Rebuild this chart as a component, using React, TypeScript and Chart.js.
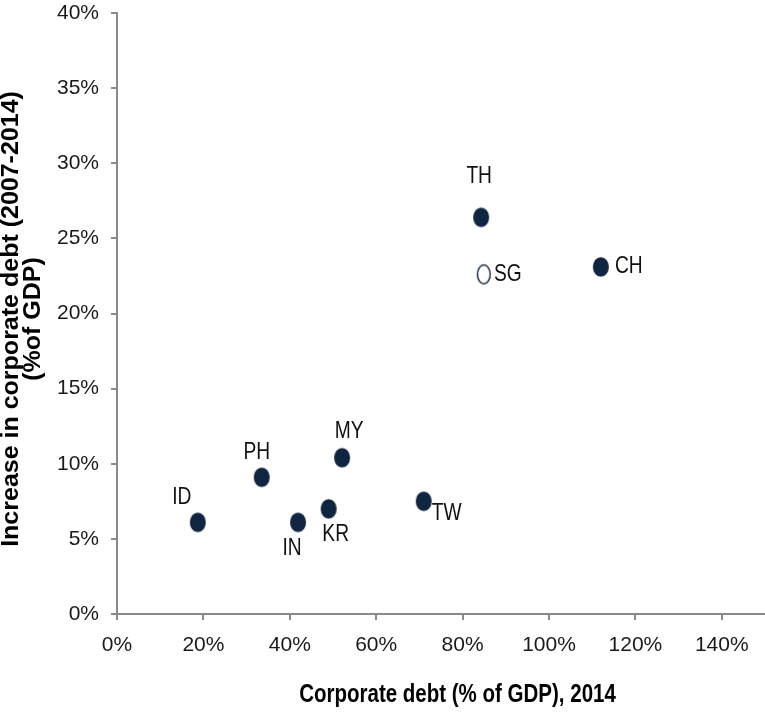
import React, { useEffect, useRef } from 'react';
import { Chart, registerables } from 'chart.js';

Chart.register(...registerables);

// ---- data ----
const countries = ['ID', 'PH', 'IN', 'KR', 'MY', 'TW', 'TH', 'SG', 'CH'];
const corporateDebt2014 = [18.7, 33.5, 41.9, 49.0, 52.1, 71.0, 84.3, 84.9, 112.0];
const debtIncrease = [6.1, 9.1, 6.1, 7.0, 10.4, 7.5, 26.4, 22.6, 23.1];
const hollowCountries = ['SG'];

const xTitle = 'Corporate debt (% of GDP), 2014';
const yTitleLines = ['Increase in corporate debt (2007-2014)', '(%of GDP)'];

// ---- label placement (style) ----
const labelOffsets: [number, number][] = [
  [-16, -25], [-5, -25], [-6, 26], [7, 26], [7, -26], [23, 12], [-2, -41], [24, 0], [28, -1],
];

const NAVY = '#10253f';
const SANS = "'Liberation Sans', Arial, sans-serif";

function makeEllipse(filled: boolean): HTMLCanvasElement {
  const c = document.createElement('canvas');
  c.width = 20;
  c.height = 24;
  const g = c.getContext('2d')!;
  g.beginPath();
  if (filled) {
    g.ellipse(10, 12, 8, 9.8, 0, 0, Math.PI * 2);
    g.fillStyle = NAVY;
    g.fill();
  } else {
    g.ellipse(10, 12, 6.4, 9.5, 0, 0, Math.PI * 2);
    g.fillStyle = '#ffffff';
    g.fill();
    g.lineWidth = 1.4;
    g.strokeStyle = NAVY;
    g.stroke();
  }
  return c;
}

const labelsPlugin = {
  id: 'pointLabels',
  afterDatasetsDraw(chart: any) {
    const ctx = chart.ctx;
    const meta = chart.getDatasetMeta(0);
    ctx.save();
    ctx.font = `24px ${SANS}`;
    ctx.fillStyle = '#111111';
    ctx.textAlign = 'center';
    ctx.textBaseline = 'middle';
    meta.data.forEach((el: any, i: number) => {
      const [dx, dy] = labelOffsets[i];
      ctx.save();
      ctx.translate(el.x + dx, el.y + dy);
      ctx.scale(0.8, 1);
      ctx.fillText(countries[i], 0, 0);
      ctx.restore();
    });
    ctx.restore();
  },
};

const titlesPlugin = {
  id: 'axisTitles',
  afterDraw(chart: any) {
    const ctx = chart.ctx;
    ctx.save();
    ctx.fillStyle = '#000000';
    // x title
    ctx.font = `bold 25px ${SANS}`;
    ctx.textAlign = 'center';
    ctx.textBaseline = 'alphabetic';
    ctx.save();
    ctx.translate(457.5, 702);
    ctx.scale(0.82, 1);
    ctx.fillText(xTitle, 0, 0);
    ctx.restore();
    // y title
    ctx.font = `bold 25px ${SANS}`;
    const cy = 319;
    const xs = [18, 40];
    yTitleLines.forEach((line, i) => {
      ctx.save();
      ctx.translate(xs[i], cy);
      ctx.rotate(-Math.PI / 2);
      ctx.scale(1, 0.95);
      ctx.textAlign = 'center';
      ctx.textBaseline = 'alphabetic';
      ctx.fillText(line, 0, 0);
      ctx.restore();
    });
    ctx.restore();
  },
};

export default function App() {
  const ref = useRef<HTMLCanvasElement | null>(null);

  useEffect(() => {
    if (!ref.current) return;
    const filled = makeEllipse(true);
    const hollow = makeEllipse(false);
    const chart = new Chart(ref.current, {
      type: 'scatter',
      data: {
        datasets: [
          {
            label: 'Corporate debt',
            data: corporateDebt2014.map((x, i) => ({ x, y: debtIncrease[i] })),
            pointStyle: countries.map((c) => (hollowCountries.includes(c) ? hollow : filled)) as any,
            pointRadius: 9,
            pointHoverRadius: 9,
            backgroundColor: NAVY,
            borderColor: NAVY,
            clip: false as any,
          },
        ],
      },
      options: {
        responsive: false,
        animation: false,
        devicePixelRatio: 1,
        layout: { autoPadding: false, padding: { top: 13, right: 0, left: 0, bottom: 0 } },
        plugins: {
          legend: { display: false },
          tooltip: { enabled: false },
        },
        scales: {
          x: {
            type: 'linear',
            min: 0,
            max: 150,
            afterBuildTicks: (scale: any) => {
              scale.ticks = scale.ticks.filter((t: any) => t.value % 20 === 0);
            },
            afterFit: (scale: any) => {
              scale.height = 98;
              scale.paddingLeft = 0;
              scale.paddingRight = 0;
            },
            ticks: {
              stepSize: 20,
              includeBounds: false,
              padding: 13,
              autoSkip: false,
              color: '#1a1a1a',
              font: { family: SANS, size: 21 },
              callback: (v: any) => `${v}%`,
              maxRotation: 0,
            },
            grid: {
              display: true,
              drawOnChartArea: false,
              drawTicks: true,
              tickLength: 6,
              color: '#8a8a8a',
              lineWidth: 2,
            },
            border: { display: true, color: '#8a8a8a', width: 2 },
          },
          y: {
            type: 'linear',
            min: 0,
            max: 40,
            afterFit: (scale: any) => {
              scale.width = 117;
              scale.paddingTop = 0;
              scale.paddingBottom = 0;
            },
            ticks: {
              stepSize: 5,
              padding: 12,
              autoSkip: false,
              color: '#1a1a1a',
              font: { family: SANS, size: 21 },
              callback: (v: any) => `${v}%`,
            },
            grid: {
              display: true,
              drawOnChartArea: false,
              drawTicks: true,
              tickLength: 6,
              color: '#8a8a8a',
              lineWidth: 2,
            },
            border: { display: true, color: '#8a8a8a', width: 2 },
          },
        },
      },
      plugins: [labelsPlugin, titlesPlugin],
    });
    return () => chart.destroy();
  }, []);

  return (
    <div style={{ position: 'absolute', left: 0, top: 0, width: 765, height: 712, background: '#ffffff' }}>
      <canvas ref={ref} width={765} height={712} style={{ display: 'block', width: 765, height: 712 }} />
    </div>
  );
}
